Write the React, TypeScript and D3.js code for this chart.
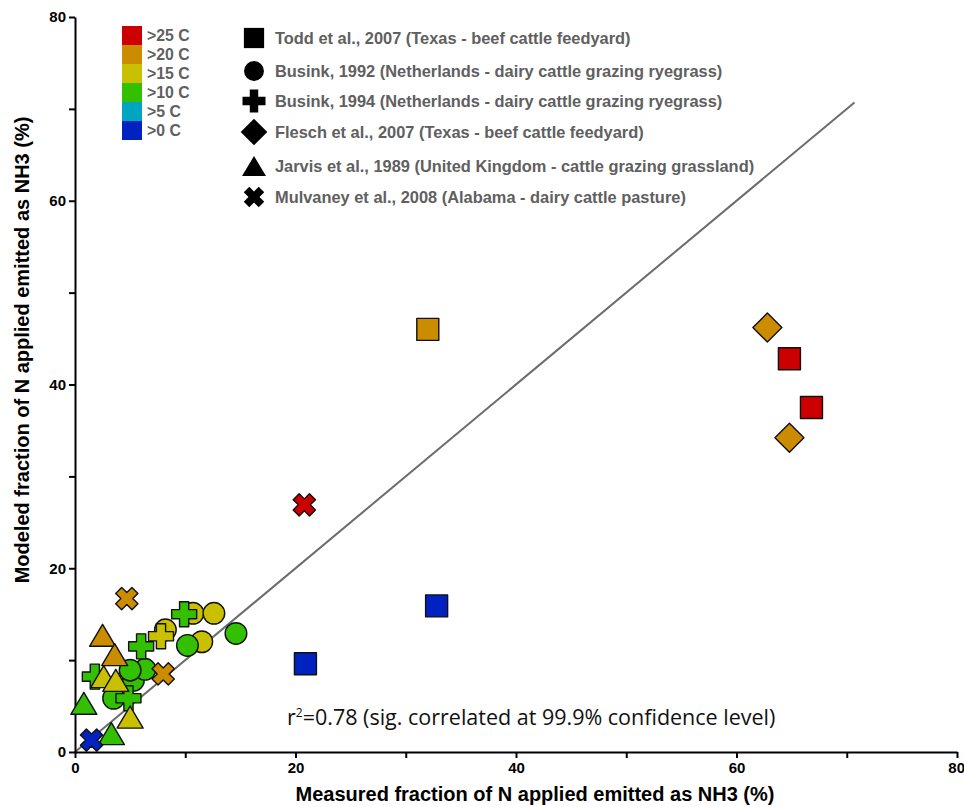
import { useRef, useEffect } from "react";
import * as d3 from "d3";

// temperature classes (legend order) and their fills
const tempClasses = [">25 C", ">20 C", ">15 C", ">10 C", ">5 C", ">0 C"];
const tempColors = ["#cc0000", "#cc8c00", "#c8c000", "#33c000", "#00a6c0", "#0022c0"];

// study labels (legend order)
const studies = [
  "Todd et al., 2007 (Texas - beef cattle feedyard)",
  "Busink, 1992 (Netherlands - dairy cattle grazing ryegrass)",
  "Busink, 1994 (Netherlands - dairy cattle grazing ryegrass)",
  "Flesch et al., 2007 (Texas - beef cattle feedyard)",
  "Jarvis et al., 1989 (United Kingdom - cattle grazing grassland)",
  "Mulvaney et al., 2008 (Alabama - dairy cattle pasture)",
];

// [measured %, modeled %, temperature class]
const todd2007: [number, number, string][] = [
  [32.0, 46.0, ">20 C"],
  [64.8, 42.8, ">25 C"],
  [66.8, 37.5, ">25 C"],
  [32.8, 15.9, ">0 C"],
  [20.9, 9.6, ">0 C"],
];
const busink1992: [number, number, string][] = [
  [10.7, 15.1, ">15 C"],
  [12.6, 15.1, ">15 C"],
  [14.6, 12.9, ">10 C"],
  [11.5, 12.0, ">15 C"],
  [10.2, 11.6, ">10 C"],
  [8.2, 13.3, ">15 C"],
  [5.3, 7.8, ">10 C"],
  [6.35, 9.0, ">10 C"],
  [5.0, 8.9, ">10 C"],
  [3.5, 5.85, ">10 C"],
];
const busink1994: [number, number, string][] = [
  [9.9, 15.0, ">10 C"],
  [7.8, 12.6, ">15 C"],
  [6.0, 11.5, ">10 C"],
  [1.8, 8.2, ">10 C"],
  [4.85, 5.85, ">10 C"],
];
const flesch2007: [number, number, string][] = [
  [62.8, 46.2, ">20 C"],
  [64.8, 34.2, ">20 C"],
];
const jarvis1989: [number, number, string][] = [
  [2.5, 12.7, ">20 C"],
  [3.6, 10.6, ">20 C"],
  [2.6, 8.2, ">15 C"],
  [3.7, 7.8, ">15 C"],
  [0.8, 5.3, ">10 C"],
  [5.0, 3.8, ">15 C"],
  [3.3, 2.0, ">10 C"],
];
const mulvaney2008: [number, number, string][] = [
  [20.8, 26.9, ">25 C"],
  [4.7, 16.7, ">20 C"],
  [8.0, 8.5, ">20 C"],
  [1.5, 1.3, ">0 C"],
];

const axisTicks = [0, 10, 20, 30, 40, 50, 60, 70, 80];
const oneToOneEnd = 70.7;
const rSquaredNote = "0.78 (sig. correlated at 99.9% confidence level)";

// marker paths centred on 0,0 ; k scales legend markers
const markerPath = (kind: string, k = 1) => {
  const p = d3.path();
  if (kind === "square") {
    const s = 11 * k;
    p.rect(-s, -s, 2 * s, 2 * s);
  } else if (kind === "circle") {
    const r = 10.8 * k;
    p.moveTo(r, 0);
    p.arc(0, 0, r, 0, Math.PI * 2);
  } else if (kind === "plus" || kind === "cross") {
    const a = 12.5 * k, t = 4.6 * k;
    const pts = [
      [-t, -a], [t, -a], [t, -t], [a, -t], [a, t], [t, t],
      [t, a], [-t, a], [-t, t], [-a, t], [-a, -t], [-t, -t],
    ];
    const rot = kind === "cross" ? Math.PI / 4 : 0;
    const sc = kind === "cross" ? 0.92 : 1;
    pts.forEach(([x, y], i) => {
      const xr = (x * Math.cos(rot) - y * Math.sin(rot)) * sc;
      const yr = (x * Math.sin(rot) + y * Math.cos(rot)) * sc;
      if (i === 0) p.moveTo(xr, yr);
      else p.lineTo(xr, yr);
    });
    p.closePath();
  } else if (kind === "diamond") {
    const h = 14.5 * k;
    p.moveTo(0, -h);
    p.lineTo(h, 0);
    p.lineTo(0, h);
    p.lineTo(-h, 0);
    p.closePath();
  } else if (kind === "triangle") {
    const w = 13 * k, h = 11 * k;
    p.moveTo(0, -h);
    p.lineTo(w, h);
    p.lineTo(-w, h);
    p.closePath();
  }
  return p.toString();
};

const studyShapes = ["square", "circle", "plus", "diamond", "triangle", "cross"];
const studyData = [todd2007, busink1992, busink1994, flesch2007, jarvis1989, mulvaney2008];

export default function App() {
  const svgRef = useRef<SVGSVGElement>(null);

  useEffect(() => {
    const svgEl = svgRef.current;
    if (!svgEl) return;
    const W = 964, H = 807;
    const svg = d3.select(svgEl).attr("width", W).attr("height", H);
    svg.selectAll("*").remove();

    const x = d3.scaleLinear().domain([0, 80]).range([75, 957]);
    const y = d3.scaleLinear().domain([0, 80]).range([752, 17]);
    const color = d3.scaleOrdinal<string, string>().domain(tempClasses).range(tempColors);
    const axisFont = "'Liberation Sans', Arial, sans-serif";
    const legendGrey = "#606060";

    // 1:1 line
    svg.append("line")
      .attr("x1", x(0)).attr("y1", y(0))
      .attr("x2", x(oneToOneEnd)).attr("y2", y(oneToOneEnd))
      .attr("stroke", "#6b6b6b").attr("stroke-width", 2);

    // axes
    const fmt = (d: d3.NumberValue) => (+d % 20 === 0 ? String(d) : "");
    const gx = svg.append("g")
      .attr("transform", `translate(0,${y(0)})`)
      .call(d3.axisBottom(x).tickValues(axisTicks).tickFormat(fmt).tickSize(6).tickSizeOuter(0).tickPadding(4));
    const gy = svg.append("g")
      .attr("transform", `translate(${x(0)},0)`)
      .call(d3.axisLeft(y).tickValues(axisTicks).tickFormat(fmt).tickSize(6).tickSizeOuter(0).tickPadding(3));
    [gx, gy].forEach((g) => {
      g.select(".domain").attr("stroke", "#000").attr("stroke-width", 2);
      g.selectAll(".tick line").attr("stroke", "#000").attr("stroke-width", 2);
      g.selectAll(".tick text")
        .attr("fill", "#000")
        .style("font-family", axisFont)
        .style("font-weight", "bold")
        .style("font-size", "15px");
    });
    // keep the last x label inside the page
    gx.selectAll<SVGTextElement, number>(".tick text")
      .filter((d) => d === 80)
      .attr("text-anchor", "end")
      .attr("dx", "0.5em");

    // axis titles
    svg.append("text")
      .attr("x", 535).attr("y", 801)
      .attr("text-anchor", "middle")
      .style("font-family", axisFont).style("font-weight", "bold").style("font-size", "20px")
      .text("Measured fraction of N applied emitted as NH3 (%)");
    svg.append("text")
      .attr("transform", `translate(29,${350}) rotate(-90)`)
      .attr("text-anchor", "middle")
      .style("font-family", axisFont).style("font-weight", "bold").style("font-size", "20px")
      .text("Modeled fraction of N applied emitted as NH3 (%)");

    // points, study by study
    studyData.forEach((pts, si) => {
      svg.append("g")
        .selectAll("path")
        .data(pts)
        .join("path")
        .attr("transform", (d) => `translate(${x(d[0])},${y(d[1])})`)
        .attr("d", markerPath(studyShapes[si]))
        .attr("fill", (d) => color(d[2]))
        .attr("stroke", "#111")
        .attr("stroke-width", 1.4)
        .attr("stroke-linejoin", "round");
    });

    // r² note
    const note = svg.append("text")
      .attr("x", 287).attr("y", 725)
      .style("font-family", "'Open Sans', 'Noto Sans', sans-serif")
      .style("font-size", "21.5px")
      .attr("fill", "#111");
    note.append("tspan").text("r");
    note.append("tspan").attr("dy", -8).style("font-size", "12px").text("2");
    note.append("tspan").attr("dy", 8).text("=" + rSquaredNote);

    // temperature legend
    const tl = svg.append("g");
    tempClasses.forEach((t, i) => {
      tl.append("rect")
        .attr("x", 122).attr("y", 26 + i * 19)
        .attr("width", 20).attr("height", 19)
        .attr("fill", color(t));
      tl.append("text")
        .attr("x", 147).attr("y", 26 + i * 19 + 15)
        .attr("fill", legendGrey)
        .style("font-family", axisFont).style("font-weight", "bold").style("font-size", "15.8px")
        .text(t);
    });

    // study legend
    const legendY = [38, 71, 101, 132, 166, 197];
    const sl = svg.append("g");
    studies.forEach((s, i) => {
      sl.append("path")
        .attr("transform", `translate(254,${legendY[i]})`)
        .attr("d", markerPath(studyShapes[i], 0.92))
        .attr("fill", "#000");
      sl.append("text")
        .attr("x", 275).attr("y", legendY[i] + 6)
        .attr("fill", legendGrey)
        .style("font-family", axisFont).style("font-weight", "bold").style("font-size", "16.4px")
        .text(s);
    });
  }, []);

  return (
    <div style={{ position: "absolute", left: 0, top: 0 }}>
      <svg ref={svgRef} style={{ display: "block" }} />
    </div>
  );
}
